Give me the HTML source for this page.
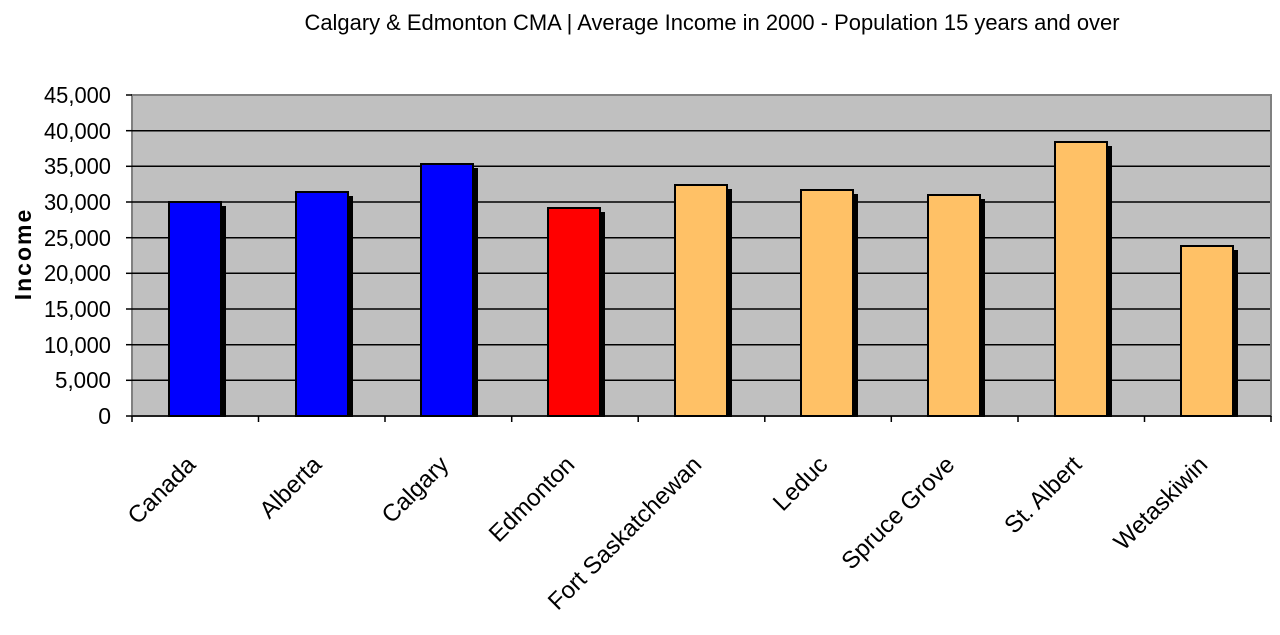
<!DOCTYPE html><html><head><style>body{margin:0;background:#fff}svg{display:block}text{font-family:"Liberation Sans",Arial,sans-serif;fill:#000}</style></head><body>
<svg width="1280" height="635" viewBox="0 0 1280 635">
<text x="712" y="30" font-size="22" text-anchor="middle" textLength="815" lengthAdjust="spacingAndGlyphs">Calgary &amp; Edmonton CMA | Average Income in 2000 - Population 15 years and over</text>
<rect x="132" y="95" width="1139" height="321" fill="#c0c0c0" stroke="#808080" stroke-width="2"/>
<g stroke="#000" stroke-width="1.5">
<line x1="132" y1="130.7" x2="1270" y2="130.7"/><line x1="132" y1="166.3" x2="1270" y2="166.3"/><line x1="132" y1="202" x2="1270" y2="202"/><line x1="132" y1="237.7" x2="1270" y2="237.7"/><line x1="132" y1="273.3" x2="1270" y2="273.3"/><line x1="132" y1="309" x2="1270" y2="309"/><line x1="132" y1="344.7" x2="1270" y2="344.7"/><line x1="132" y1="380.3" x2="1270" y2="380.3"/>
</g>
<g stroke="#000" stroke-width="1.5">
<line x1="126" y1="95" x2="132" y2="95"/><line x1="126" y1="130.7" x2="132" y2="130.7"/><line x1="126" y1="166.3" x2="132" y2="166.3"/><line x1="126" y1="202" x2="132" y2="202"/><line x1="126" y1="237.7" x2="132" y2="237.7"/><line x1="126" y1="273.3" x2="132" y2="273.3"/><line x1="126" y1="309" x2="132" y2="309"/><line x1="126" y1="344.7" x2="132" y2="344.7"/><line x1="126" y1="380.3" x2="132" y2="380.3"/><line x1="126" y1="416" x2="1271" y2="416"/>
<line x1="132" y1="416" x2="132" y2="422"/><line x1="258.5" y1="416" x2="258.5" y2="422"/><line x1="385" y1="416" x2="385" y2="422"/><line x1="511.7" y1="416" x2="511.7" y2="422"/><line x1="638.2" y1="416" x2="638.2" y2="422"/><line x1="764.8" y1="416" x2="764.8" y2="422"/><line x1="891.3" y1="416" x2="891.3" y2="422"/><line x1="1018" y1="416" x2="1018" y2="422"/><line x1="1144.5" y1="416" x2="1144.5" y2="422"/><line x1="1271" y1="416" x2="1271" y2="422"/>
</g>
<g font-size="23" text-anchor="end">
<text x="111" y="103" textLength="67" lengthAdjust="spacingAndGlyphs">45,000</text><text x="111" y="139" textLength="67" lengthAdjust="spacingAndGlyphs">40,000</text><text x="111" y="174" textLength="67" lengthAdjust="spacingAndGlyphs">35,000</text><text x="111" y="210" textLength="67" lengthAdjust="spacingAndGlyphs">30,000</text><text x="111" y="246" textLength="67" lengthAdjust="spacingAndGlyphs">25,000</text><text x="111" y="281" textLength="67" lengthAdjust="spacingAndGlyphs">20,000</text><text x="111" y="317" textLength="67" lengthAdjust="spacingAndGlyphs">15,000</text><text x="111" y="353" textLength="67" lengthAdjust="spacingAndGlyphs">10,000</text><text x="111" y="388" textLength="56" lengthAdjust="spacingAndGlyphs">5,000</text><text x="111" y="424">0</text>
</g>
<text transform="translate(31,254) rotate(-90)" font-size="23" font-weight="bold" text-anchor="middle" letter-spacing="2">Income</text>
<g stroke="#000" stroke-width="2">
<rect x="173" y="207" width="52" height="209" fill="#000"/><rect x="169" y="202" width="52" height="214" fill="#0000ff"/>
<rect x="300" y="197" width="52" height="219" fill="#000"/><rect x="296" y="192" width="52" height="224" fill="#0000ff"/>
<rect x="425" y="169" width="52" height="247" fill="#000"/><rect x="421" y="164" width="52" height="252" fill="#0000ff"/>
<rect x="552" y="213" width="52" height="203" fill="#000"/><rect x="548" y="208" width="52" height="208" fill="#ff0000"/>
<rect x="679" y="190" width="52" height="226" fill="#000"/><rect x="675" y="185" width="52" height="231" fill="#ffc166"/>
<rect x="805" y="195" width="52" height="221" fill="#000"/><rect x="801" y="190" width="52" height="226" fill="#ffc166"/>
<rect x="932" y="200" width="52" height="216" fill="#000"/><rect x="928" y="195" width="52" height="221" fill="#ffc166"/>
<rect x="1059" y="147" width="52" height="269" fill="#000"/><rect x="1055" y="142" width="52" height="274" fill="#ffc166"/>
<rect x="1185" y="251" width="52" height="165" fill="#000"/><rect x="1181" y="246" width="52" height="170" fill="#ffc166"/>
</g>
<g font-size="24" text-anchor="end">
<text transform="translate(197,466) rotate(-45)">Canada</text>
<text transform="translate(323,466) rotate(-45)">Alberta</text>
<text transform="translate(450,466) rotate(-45)">Calgary</text>
<text transform="translate(576,466) rotate(-45)">Edmonton</text>
<text transform="translate(703,466) rotate(-45)">Fort Saskatchewan</text>
<text transform="translate(829,466) rotate(-45)">Leduc</text>
<text transform="translate(956,466) rotate(-45)">Spruce Grove</text>
<text transform="translate(1083,466) rotate(-45)">St. Albert</text>
<text transform="translate(1209,466) rotate(-45)">Wetaskiwin</text>
</g>
</svg></body></html>
